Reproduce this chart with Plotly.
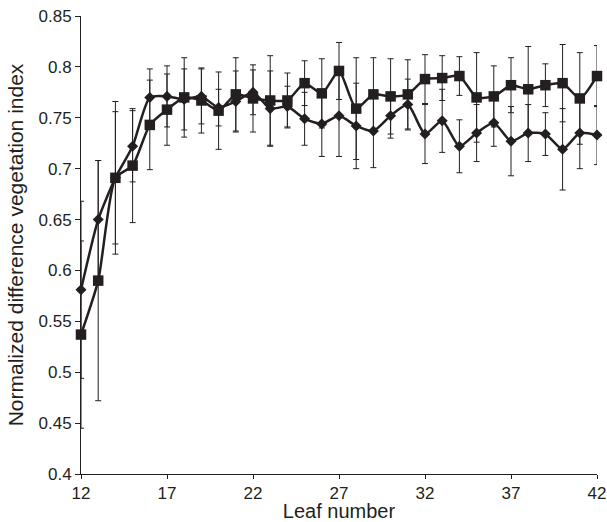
import plotly.graph_objects as go

leaf = list(range(12, 43))

ndvi_diamond = [0.581, 0.650, 0.691, 0.722, 0.770, 0.771, 0.768, 0.771, 0.760, 0.766,
                0.775, 0.759, 0.761, 0.749, 0.744, 0.752, 0.742, 0.737, 0.752, 0.763,
                0.734, 0.747, 0.722, 0.735, 0.745, 0.727, 0.735, 0.734, 0.719, 0.735, 0.733]
err_diamond = [0.087, 0.058, 0.065, 0.035, 0.028, 0.030, 0.030, 0.027, 0.018, 0.030,
               0.022, 0.037, 0.020, 0.026, 0.032, 0.040, 0.042, 0.036, 0.022, 0.025,
               0.029, 0.031, 0.026, 0.028, 0.023, 0.034, 0.028, 0.021, 0.040, 0.035, 0.029]

ndvi_square = [0.537, 0.590, 0.691, 0.703, 0.743, 0.758, 0.770, 0.767, 0.757, 0.773,
               0.769, 0.767, 0.767, 0.784, 0.774, 0.796, 0.759, 0.773, 0.771, 0.773,
               0.788, 0.789, 0.791, 0.770, 0.771, 0.782, 0.778, 0.782, 0.784, 0.769, 0.791]
err_square = [0.092, 0.118, 0.075, 0.056, 0.044, 0.035, 0.039, 0.032, 0.038, 0.036,
              0.033, 0.044, 0.027, 0.022, 0.034, 0.028, 0.050, 0.036, 0.037, 0.034,
              0.024, 0.022, 0.019, 0.044, 0.030, 0.027, 0.042, 0.021, 0.038, 0.045, 0.030]

x_ticks = [12, 17, 22, 27, 32, 37, 42]
y_ticks = [0.4, 0.45, 0.5, 0.55, 0.6, 0.65, 0.7, 0.75, 0.8, 0.85]
y_tick_labels = ["0.4", "0.45", "0.5", "0.55", "0.6", "0.65", "0.7", "0.75", "0.8", "0.85"]

ink = "#231f20"
font = "Liberation Sans, Arial, sans-serif"

fig = go.Figure()
fig.add_trace(go.Scatter(
    x=leaf, y=ndvi_diamond, mode="lines+markers",
    line=dict(color=ink, width=2.5, shape="spline", smoothing=0.6),
    marker=dict(symbol="diamond", size=8.5, color=ink),
    error_y=dict(type="data", array=err_diamond, color=ink, thickness=1, width=3),
    cliponaxis=False, showlegend=False,
))
fig.add_trace(go.Scatter(
    x=leaf, y=ndvi_square, mode="lines+markers",
    line=dict(color=ink, width=2.5, shape="spline", smoothing=0.6),
    marker=dict(symbol="square", size=10.5, color=ink),
    error_y=dict(type="data", array=err_square, color=ink, thickness=1, width=3),
    cliponaxis=False, showlegend=False,
))

fig.update_layout(
    width=607, height=522,
    margin=dict(l=81, r=10, t=16, b=48, autoexpand=False),
    paper_bgcolor="white", plot_bgcolor="white",
    font=dict(family=font, color=ink, size=17),
)
fig.update_xaxes(
    range=[12, 42], tickvals=x_ticks, showgrid=False, zeroline=False,
    showline=True, linecolor=ink, linewidth=1, ticks="outside", ticklen=4,
    tickcolor=ink, tickfont=dict(size=17), automargin=False,
    ticklabeloverflow="allow",
    title=dict(text="Leaf number", font=dict(size=20), standoff=3),
)
fig.update_yaxes(
    range=[0.4, 0.85], tickvals=y_ticks, ticktext=y_tick_labels, showgrid=False,
    zeroline=False, showline=True, linecolor=ink, linewidth=1, ticks="outside",
    ticklen=5, tickcolor=ink, tickfont=dict(size=17), automargin=False,
    ticklabeloverflow="allow",
    title=dict(text="Normalized difference vegetation index", font=dict(size=21), standoff=9),
)

fig.write_html(
    "out.html",
    config={"displayModeBar": False},
    post_script="document.body.style.margin='0';document.body.style.overflow='hidden';",
)
